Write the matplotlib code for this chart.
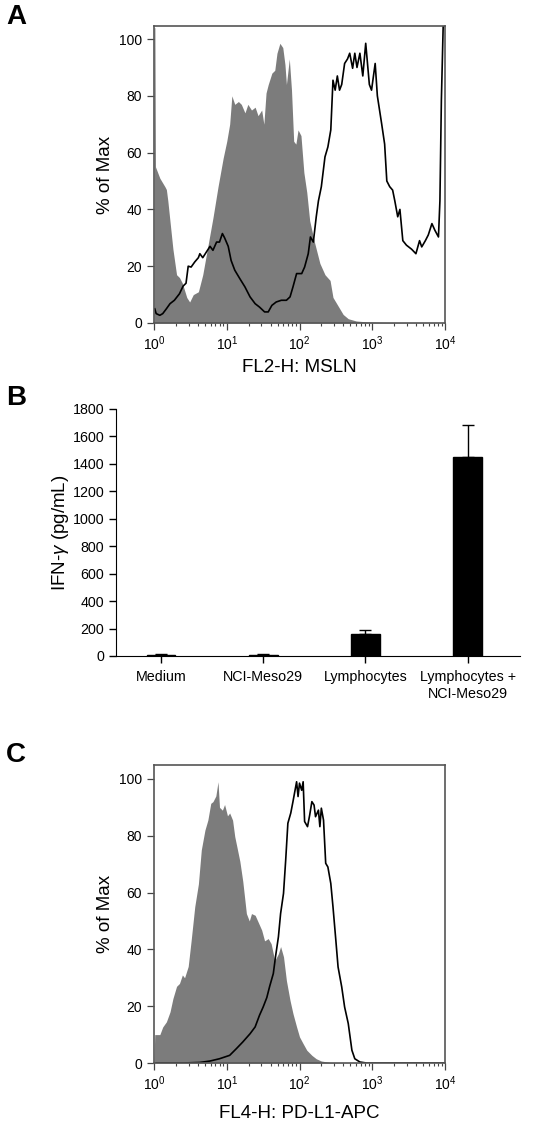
import matplotlib
matplotlib.use("Agg")
import matplotlib.pyplot as plt
import numpy as np

plt.rcParams['font.family'] = ['Liberation Sans', 'DejaVu Sans']
plt.rcParams['mathtext.fontset'] = 'custom'
plt.rcParams['mathtext.rm'] = 'Liberation Sans'
plt.rcParams['mathtext.it'] = 'Liberation Sans:italic'

# panel A: MSLN histogram (log10 intensity, % of max)
a_control = [(0.0, 104), (0.012, 104), (0.02, 55), (0.08, 51), (0.15, 48), (0.17, 47), (0.19, 43),
             (0.26, 26), (0.31, 17), (0.35, 16), (0.39, 14), (0.45, 9), (0.49, 7.4), (0.54, 10),
             (0.61, 11), (0.67, 17), (0.74, 27), (0.81, 37), (0.88, 48), (0.95, 58), (1.00, 64),
             (1.04, 70), (1.07, 80), (1.11, 77), (1.16, 78), (1.20, 77), (1.25, 74), (1.29, 77),
             (1.34, 75), (1.39, 76), (1.43, 73), (1.48, 75), (1.51, 70), (1.54, 81), (1.57, 84),
             (1.62, 88), (1.66, 89), (1.69, 95), (1.73, 98.5), (1.77, 97), (1.80, 91), (1.82, 84),
             (1.86, 93), (1.89, 82), (1.92, 64), (1.95, 63), (1.98, 68), (2.02, 66), (2.06, 53),
             (2.10, 46), (2.14, 36), (2.21, 28), (2.28, 21), (2.35, 17), (2.42, 15), (2.46, 9),
             (2.53, 6), (2.60, 3), (2.67, 1.5), (2.78, 0.7), (2.92, 0.4), (3.15, 0.2), (3.5, 0.1),
             (4.0, 0)]
a_msln = [(0.01, 5), (0.03, 3.3), (0.08, 2.7), (0.12, 3.3), (0.17, 5), (0.22, 6.8), (0.28, 8),
          (0.35, 10.3), (0.40, 13), (0.44, 14), (0.47, 20), (0.51, 19.7), (0.56, 21.5), (0.61, 23),
          (0.63, 24.4), (0.67, 23), (0.72, 25), (0.77, 27), (0.81, 25.6), (0.86, 28.5), (0.90, 28.5),
          (0.94, 31.5), (0.97, 30), (1.02, 27), (1.06, 22), (1.11, 18.6), (1.18, 15.6), (1.25, 12.7),
          (1.32, 9.2), (1.39, 6.8), (1.45, 5.6), (1.52, 3.9), (1.57, 3.9), (1.62, 6.2), (1.68, 7.4),
          (1.75, 8), (1.82, 8), (1.87, 9.2), (1.91, 12.7), (1.96, 17.4), (2.03, 17.4), (2.07, 19.7),
          (2.12, 24.4), (2.15, 30.3), (2.19, 28.5), (2.23, 37.4), (2.26, 43), (2.30, 48), (2.35, 58.5),
          (2.39, 62), (2.43, 68), (2.46, 85.5), (2.49, 82), (2.52, 87), (2.55, 82), (2.58, 84),
          (2.62, 91.4), (2.66, 93), (2.69, 95), (2.73, 89.7), (2.76, 95), (2.79, 90), (2.83, 95),
          (2.87, 87), (2.91, 98.5), (2.96, 84), (2.99, 82), (3.04, 91.4), (3.07, 80), (3.13, 70),
          (3.17, 63), (3.20, 50), (3.24, 48), (3.28, 46.8), (3.31, 43), (3.35, 37.4), (3.38, 40),
          (3.42, 29), (3.47, 27.4), (3.54, 26), (3.60, 24.4), (3.65, 29), (3.68, 26.8), (3.73, 29),
          (3.77, 31), (3.82, 35), (3.86, 32.7), (3.91, 30.3), (3.93, 43), (3.95, 78.5), (3.98, 110)]

# panel B: IFN-gamma release
categories = ["Medium", "NCI-Meso29", "Lymphocytes", "Lymphocytes +\nNCI-Meso29"]
ifng = [5, 5, 162, 1450]
ifng_err = [7, 7, 28, 235]
b_yticks = [0, 200, 400, 600, 800, 1000, 1200, 1400, 1600, 1800]

# panel C: PD-L1 histogram
c_control = [(0.0, 0), (0.01, 10), (0.03, 10), (0.08, 10), (0.12, 12.7), (0.17, 14.5), (0.22, 18),
             (0.26, 22.7), (0.31, 27), (0.35, 28), (0.39, 31), (0.42, 30), (0.47, 34), (0.51, 43),
             (0.56, 55), (0.61, 63), (0.65, 75), (0.70, 82), (0.74, 85.5), (0.78, 91.4), (0.81, 92),
             (0.85, 94), (0.88, 99), (0.90, 90), (0.94, 89), (0.97, 91), (1.01, 87), (1.04, 88),
             (1.08, 85.5), (1.11, 79.7), (1.14, 76), (1.18, 71), (1.22, 64), (1.27, 52.6), (1.31, 50),
             (1.34, 52.6), (1.39, 52), (1.43, 49.7), (1.48, 46.8), (1.52, 43), (1.57, 43.8), (1.61, 42),
             (1.66, 36), (1.71, 38.5), (1.74, 41), (1.78, 37.4), (1.82, 29), (1.87, 22), (1.91, 17.4),
             (1.96, 12.7), (2.00, 9.2), (2.05, 6.8), (2.10, 4.5), (2.17, 2.7), (2.23, 1.5), (2.30, 0.7),
             (2.42, 0.2), (2.69, 0), (4.0, 0)]
c_pdl1 = [(0.03, 0), (0.40, 0), (0.63, 0.2), (0.77, 0.7), (0.90, 1.5), (1.04, 2.7), (1.13, 5),
          (1.22, 7.4), (1.32, 10.3), (1.39, 12.7), (1.45, 16.8), (1.50, 19.7), (1.55, 23), (1.59, 27),
          (1.64, 31.5), (1.67, 37.4), (1.71, 44.4), (1.74, 52.6), (1.78, 59.7), (1.81, 71.4),
          (1.84, 84.4), (1.88, 88), (1.91, 92), (1.96, 99), (1.98, 93.8), (2.00, 98.5), (2.03, 96),
          (2.05, 99), (2.07, 85), (2.11, 83.2), (2.14, 87.3), (2.17, 92), (2.20, 90.8), (2.22, 86.7),
          (2.26, 89), (2.28, 83.2), (2.30, 89.7), (2.33, 85.5), (2.36, 70.3), (2.39, 69), (2.43, 63.2),
          (2.46, 55), (2.50, 43), (2.53, 33.8), (2.58, 26.8), (2.62, 19.7), (2.67, 13.9), (2.72, 4.5),
          (2.76, 1.5), (2.83, 0.35), (2.92, 0), (4.0, 0)]
hist_yticks = [0, 20, 40, 60, 80, 100]

fig = plt.figure(figsize=(5.37, 11.25), dpi=100)


def histo(ax, control, stained, xlabel, ytop, xpad):
    cd = np.array(control)
    sd = np.array(stained)
    ax.fill_between(10 ** cd[:, 0], cd[:, 1], color='#7c7c7c', lw=0)
    ax.plot(10 ** sd[:, 0], sd[:, 1], color='black', lw=1.2)
    ax.set_xscale('log')
    ax.set_xlim(1, 1e4)
    ax.set_ylim(0, ytop)
    ax.set_yticks(hist_yticks)
    ax.set_xticks([1, 10, 100, 1000, 10000])
    ax.tick_params(labelsize=10, length=5, width=0.9, color='#444444')
    ax.tick_params(which='minor', length=2.5, width=0.8, color='#444444')
    for s in ax.spines.values():
        s.set_color('#555555')
        s.set_linewidth(1.2)
    ax.set_xlabel(xlabel, fontsize=13.5, labelpad=xpad)
    ax.set_ylabel('% of Max', fontsize=13.5, labelpad=4)


axA = fig.add_axes([0.2868, 0.7129, 0.5419, 0.264])
histo(axA, a_control, a_msln, 'FL2-H: MSLN', 104.6, 4)

axB = fig.add_axes([0.216, 0.4169, 0.752, 0.2196])
pos = np.arange(len(categories))
axB.bar(pos, ifng, width=0.28, color='black', edgecolor='black')
axB.errorbar(pos, ifng, yerr=[np.zeros(len(ifng)), ifng_err], fmt='none',
             ecolor='black', elinewidth=1, capsize=4, capthick=1)
axB.set_xlim(-0.44, 3.51)
axB.set_ylim(0, 1800)
axB.set_yticks(b_yticks)
axB.set_xticks(pos)
axB.set_xticklabels(categories, fontsize=10.3, linespacing=1.3)
axB.tick_params(axis='y', labelsize=10.3, length=5, width=1)
axB.tick_params(axis='x', length=5, width=1, pad=5)
axB.spines['top'].set_visible(False)
axB.spines['right'].set_visible(False)
axB.set_ylabel('IFN-$\\gamma$ (pg/mL)', fontsize=13.5, labelpad=1)

axC = fig.add_axes([0.2868, 0.0551, 0.5419, 0.2649])
histo(axC, c_control, c_pdl1, 'FL4-H: PD-L1-APC', 104.9, 8)

for lab, yy in [('A', 0.985), ('B', 0.646), ('C', 0.329)]:
    fig.text(0.03, yy, lab, fontsize=20, fontweight='bold', va='center', ha='center')

fig.savefig('out.png', dpi=100)
